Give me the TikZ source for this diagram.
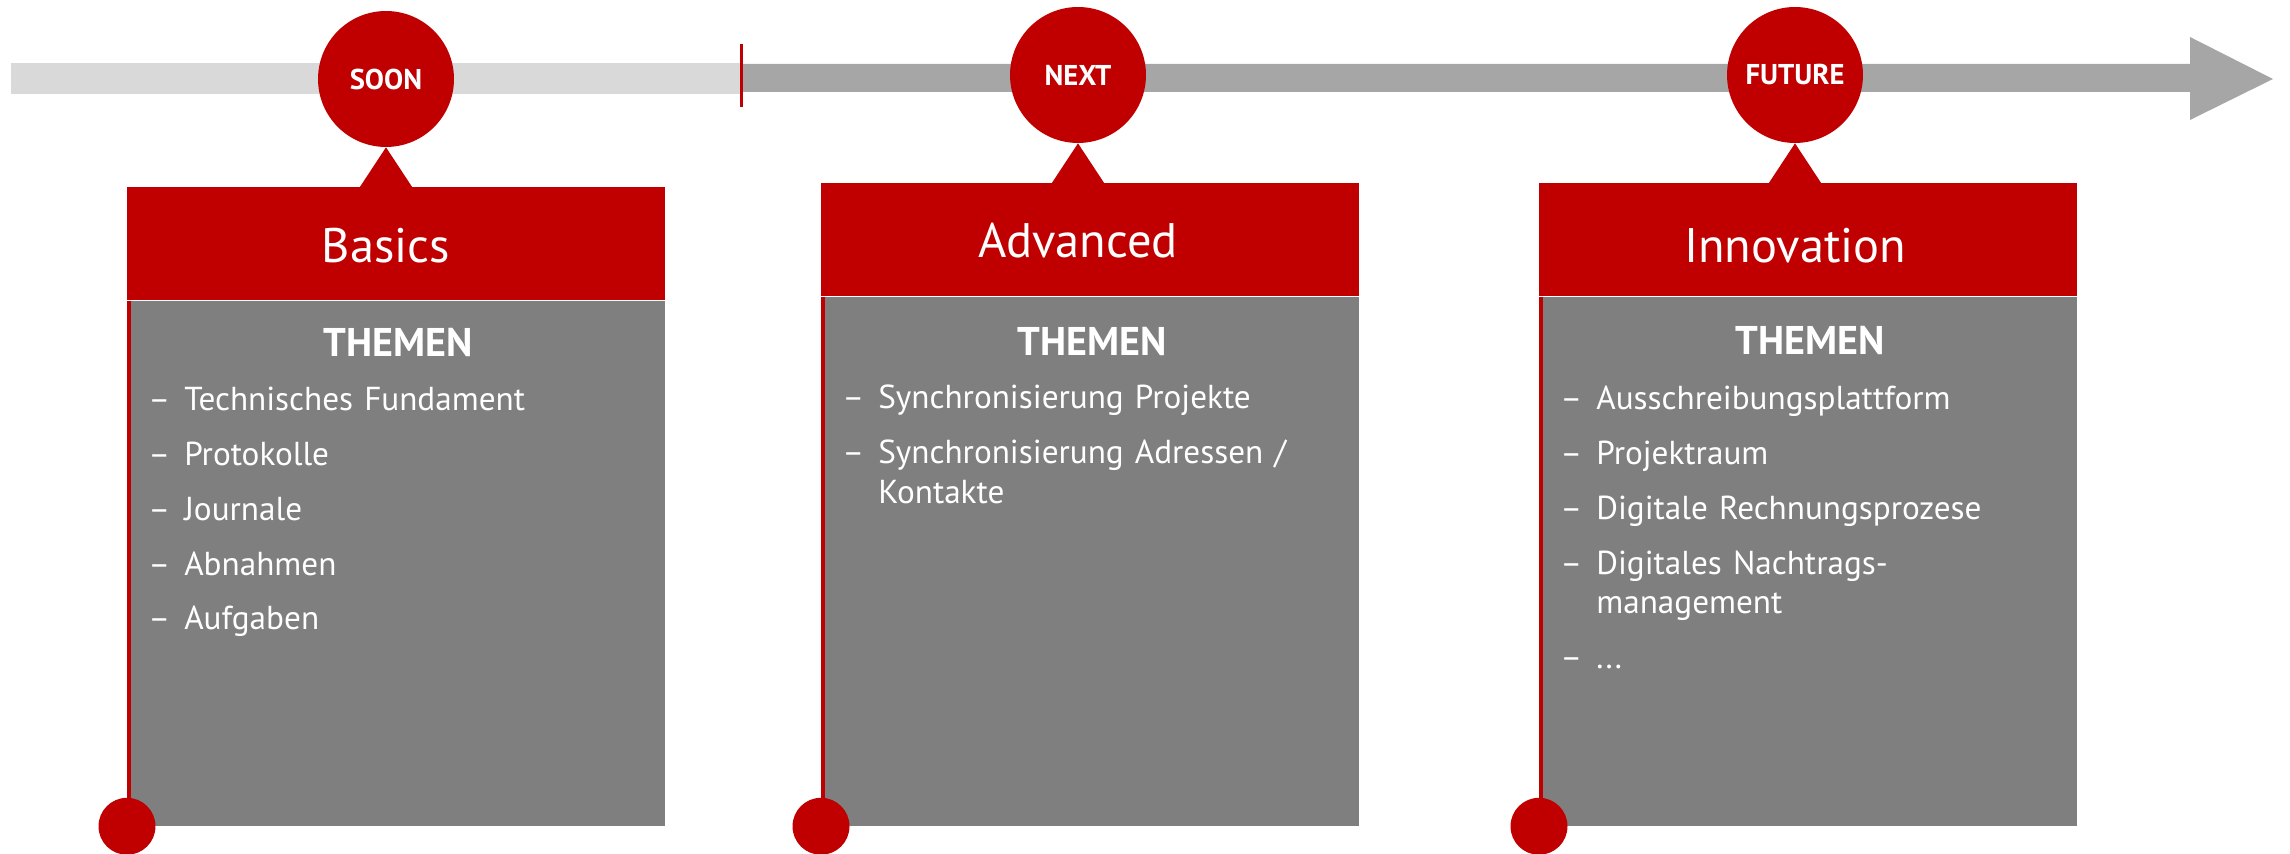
\documentclass[tikz,border=0pt]{standalone}
\usepackage{fontspec}
\setmainfont{PT Sans}
\usetikzlibrary{positioning,calc}
\definecolor{brandred}{RGB}{192,0,0}
\definecolor{bodygray}{RGB}{127,127,127}
\definecolor{barlight}{RGB}{217,217,217}
\definecolor{bardark}{RGB}{166,166,166}
\newcommand{\topic}[1]{\setlength{\parskip}{0.3cm}\hangindent=0.72cm\makebox[0.72cm][l]{–}#1\par}
\tikzset{milestone/.style={circle,fill=brandred,text=white,inner sep=0pt,minimum size=2.72cm,
    font=\fontsize{16.3}{18}\selectfont\bfseries}}
\tikzset{header/.style={rectangle,fill=brandred,inner sep=0pt,minimum width=10.76cm,minimum height=2.26cm,anchor=north west}}
\tikzset{title/.style={text=white,inner sep=0pt,anchor=base,font=\fontsize{27.6}{30}\selectfont}}
\tikzset{panel/.style={rectangle,fill=bodygray,inner sep=0pt,minimum width=10.68cm}}
\tikzset{themen/.style={text=white,inner sep=0pt,anchor=base,font=\fontsize{22.8}{26}\selectfont\bfseries}}
\tikzset{topics/.style={text=white,inner sep=0pt,anchor=base west,text width=10cm,align=left,
    font=\fontsize{18.9}{22.6}\selectfont}}
\tikzset{dot/.style={circle,fill=brandred,inner sep=0pt,minimum size=1.14cm}}
\tikzset{stem/.style={draw=brandred,line width=0.08cm}}
\tikzset{pointer/.style={fill=brandred}}
\begin{document}
\begin{tikzpicture}[x=0.02cm,y=-0.02cm]
  \useasboundingbox (0,0) rectangle (2290,854);
  % timeline
  \fill[barlight] (11,63) rectangle (741,94);
  \fill[bardark] (741,64) -- (2190,64) -- (2190,37) -- (2273,79) -- (2190,120) -- (2190,92) -- (741,92) -- cycle;
  \draw[brandred,line width=0.06cm] (741,44) -- (741,107);

  % Basics
  \node[header] (basics) at (127,187) {};
  \node[panel,below right=0pt and 0.08cm of basics.south west,minimum height=10.5cm] (basicspanel) {};
  \node[milestone] (soon) at (386,79) {SOON};
  \fill[pointer] (soon.south) -- ($(soon.south)+(27,41)$) -- ($(soon.south)+(-27,41)$) -- cycle;
  \node[title] (basicstitle) at (soon |- 0,263) {Basics};
  \node[themen] (basicsthemen) at (basicspanel.north |- 0,357) {THEMEN};
  \node[topics] (basicstopics) at (148,411) {\topic{Technisches Fundament}\topic{Protokolle}\topic{Journale}\topic{Abnahmen}\topic{Aufgaben}};
  \node[dot] (basicsdot) at (basics.west |- basicspanel.south) {};
  \draw[stem] ([xshift=0.04cm]basics.south west) -- ([xshift=0.04cm]basicsdot.center);

  % Advanced
  \node[header] (advanced) at (821,183) {};
  \node[panel,below right=0pt and 0.08cm of advanced.south west,minimum height=10.58cm] (advancedpanel) {};
  \node[milestone] (next) at (1078,75) {NEXT};
  \fill[pointer] (next.south) -- ($(next.south)+(27,41)$) -- ($(next.south)+(-27,41)$) -- cycle;
  \node[title] (advancedtitle) at (next |- 0,258) {Advanced};
  \node[themen] (advancedthemen) at (advancedpanel.north |- 0,356) {THEMEN};
  \node[topics] (advancedtopics) at (842,409) {\topic{Synchronisierung Projekte}\topic{Synchronisierung Adressen /\newline Kontakte}};
  \node[dot] (advanceddot) at (advanced.west |- advancedpanel.south) {};
  \draw[stem] ([xshift=0.04cm]advanced.south west) -- ([xshift=0.04cm]advanceddot.center);

  % Innovation
  \node[header] (innovation) at (1539,183) {};
  \node[panel,below right=0pt and 0.08cm of innovation.south west,minimum height=10.58cm] (innovationpanel) {};
  \node[milestone] (future) at (1795,75) {FUTURE};
  \fill[pointer] (future.south) -- ($(future.south)+(27,41)$) -- ($(future.south)+(-27,41)$) -- cycle;
  \node[title] (innovationtitle) at (future |- 0,263) {Innovation};
  \node[themen] (innovationthemen) at (innovationpanel.north |- 0,355) {THEMEN};
  \node[topics] (innovationtopics) at (1560,410) {\topic{Ausschreibungsplattform}\topic{Projektraum}\topic{Digitale Rechnungsprozese}\topic{Digitales Nachtrags-\newline management}\topic{...}};
  \node[dot] (innovationdot) at (innovation.west |- innovationpanel.south) {};
  \draw[stem] ([xshift=0.04cm]innovation.south west) -- ([xshift=0.04cm]innovationdot.center);
\end{tikzpicture}
\end{document}
